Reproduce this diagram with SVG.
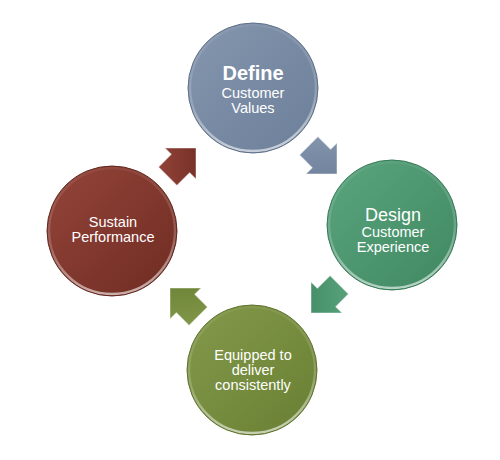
<svg xmlns="http://www.w3.org/2000/svg" width="500" height="460" viewBox="0 0 500 460">
<defs>
<style>
.lbl{font-family:"Liberation Sans",Arial,sans-serif;fill:#fff;text-anchor:middle;font-size:14.5px}
.big{font-size:18px}
.bold{font-weight:bold;font-size:20px}
.rim{fill:none;stroke:url(#rimG);stroke-width:2.5}
.edge{fill:none;stroke-width:1}
.arr{stroke:#fff;stroke-opacity:0.45;stroke-width:1}
</style>
<linearGradient id="gBlue" x1="0" y1="0" x2="1" y2="1"><stop offset="0" stop-color="#8596ae"/><stop offset="1" stop-color="#6c7f99"/></linearGradient>
<linearGradient id="gGreen" x1="0" y1="0" x2="1" y2="1"><stop offset="0" stop-color="#5aa47e"/><stop offset="1" stop-color="#3f8862"/></linearGradient>
<linearGradient id="gRed" x1="0" y1="0" x2="1" y2="1"><stop offset="0" stop-color="#94443a"/><stop offset="1" stop-color="#6f2c22"/></linearGradient>
<linearGradient id="gOlive" x1="0" y1="0" x2="1" y2="1"><stop offset="0" stop-color="#84994a"/><stop offset="1" stop-color="#687f33"/></linearGradient>
<linearGradient id="rimG" x1="0.2" y1="0" x2="0.3" y2="1"><stop offset="0" stop-color="#fff" stop-opacity="0.05"/><stop offset="0.6" stop-color="#fff" stop-opacity="0.2"/><stop offset="1" stop-color="#fff" stop-opacity="0.6"/></linearGradient>
</defs>

<g id="connectors">
<polygon class="arr" fill="url(#gBlue)" transform="translate(337,174) rotate(45)" points="0,0 -22,-22 -22,-13 -40,-13 -40,13 -22,13 -22,22"/>
<polygon class="arr" fill="url(#gGreen)" transform="translate(311,313) rotate(135)" points="0,0 -22,-22 -22,-13 -40,-13 -40,13 -22,13 -22,22"/>
<polygon class="arr" fill="url(#gOlive)" transform="translate(170,288) rotate(-135)" points="0,0 -22,-22 -22,-13 -40,-13 -40,13 -22,13 -22,22"/>
<polygon class="arr" fill="url(#gRed)" transform="translate(196,148) rotate(-45)" points="0,0 -22,-22 -22,-13 -40,-13 -40,13 -22,13 -22,22"/>
</g>

<g id="define">
<circle cx="253" cy="88" r="65" fill="url(#gBlue)"/>
<circle cx="253" cy="88" r="63" class="rim"/>
<circle cx="253" cy="88" r="65" class="edge" stroke="#5d6f88"/>
<text class="lbl bold" x="253" y="80">Define</text>
<text class="lbl" x="253" y="98">Customer</text>
<text class="lbl" x="253" y="113">Values</text>
</g>

<g id="design">
<circle cx="392" cy="225" r="65" fill="url(#gGreen)"/>
<circle cx="392" cy="225" r="63" class="rim"/>
<circle cx="392" cy="225" r="65" class="edge" stroke="#357a56"/>
<text class="lbl big" x="393" y="221">Design</text>
<text class="lbl" x="393" y="237">Customer</text>
<text class="lbl" x="393" y="252">Experience</text>
</g>

<g id="equipped">
<circle cx="252" cy="370" r="65" fill="url(#gOlive)"/>
<circle cx="252" cy="370" r="63" class="rim"/>
<circle cx="252" cy="370" r="65" class="edge" stroke="#5d722b"/>
<text class="lbl" x="253" y="360">Equipped to</text>
<text class="lbl" x="253" y="375">deliver</text>
<text class="lbl" x="253" y="390">consistently</text>
</g>

<g id="sustain">
<circle cx="112" cy="231" r="65" fill="url(#gRed)"/>
<circle cx="112" cy="231" r="63" class="rim"/>
<circle cx="112" cy="231" r="65" class="edge" stroke="#62261d"/>
<text class="lbl" x="113" y="227">Sustain</text>
<text class="lbl" x="113" y="242">Performance</text>
</g>
</svg>
